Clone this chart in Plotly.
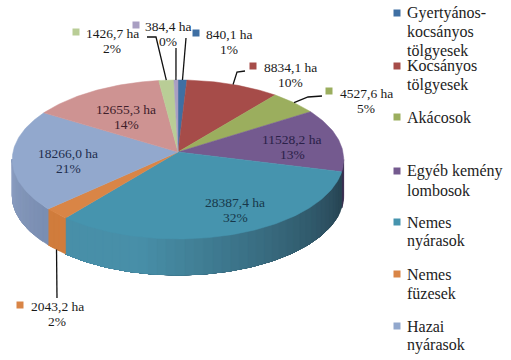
import math
import plotly.graph_objects as go

# --- data ---
categories = ["Gyertyános-<br>kocsányos<br>tölgyesek", "Kocsányos<br>tölgyesek", "Akácosok",
              "Egyéb kemény<br>lombosok", "Nemes<br>nyárasok", "Nemes<br>füzesek", "Hazai<br>nyárasok",
              "", "", ""]
values = [840.1, 8834.1, 4527.6, 11528.2, 28387.4, 2043.2, 18266.0, 12655.3, 1426.7, 384.4]

# --- style ---
colors = ["#3F6FA3", "#A64C49", "#9BAE5E", "#745A8F", "#4694AE", "#D98546", "#92A8CD", "#CE9392", "#B9CD96", "#A99FC2"]
wall_a = {4: (0x48, 0x8F, 0xA8), 5: (0xD0, 0x7C, 0x3C), 6: (0x8A, 0x9D, 0xC0), 3: (0x3A, 0x2E, 0x50)}
wall_b = {4: (0x25, 0x3E, 0x4C), 5: (0xD0, 0x7C, 0x3C), 6: (0x7A, 0x8E, 0xB2), 3: (0x3A, 0x2E, 0x50)}
text_colors = ["#1a1a1a", "#1a1a1a", "#1a1a1a", "#2A2148", "#17384A", "#1a1a1a", "#1F2E4E", "#40202A", "#1a1a1a", "#1a1a1a"]
CX, CY, RX, RY, P, DEPTH = 178, 152, 165, 78.8, 0.094, 36
label_pos = [(229, 42), (290, 75), (366, 101), (292, 147), (235, 210), (57, 314), (68, 161), (126, 117), (112, 41), (168, 34)]
LABEL_LINE = 15
key_pos = [(196, 33), (253, 66), (329, 91), None, None, (20, 305), None, None, (76, 32), (136, 25)]
elbows = [[(186, 38)], [(237, 72), (245, 71)], [(308, 97), (322, 96)], None, None, [(57, 298)], None, None,
          [(156, 37), (147, 37)], [(176, 48)]]
legend_top = [13, 66, 117, 171, 222, 274, 326]
LEGEND_LINE = 19
LEGEND_X, LEGEND_KEY_X = 405, 397

def project(theta):
    s, c = math.sin(theta), math.cos(theta)
    w = 1 + P * c
    return CX + RX * s / w, CY - RY * c / w

total = sum(values)
fig = go.Figure()
edges = [0.0]
for v in values:
    edges.append(edges[-1] + v / total * 2 * math.pi)

def arc(a, b, step=math.radians(1)):
    n = max(2, int((b - a) / step) + 2)
    return [a + (b - a) * i / (n - 1) for i in range(n)]

def poly(xs, ys, color):
    fig.add_trace(go.Scatter(x=xs, y=ys, mode="lines", fill="toself", fillcolor=color,
                             line=dict(color=color, width=0.5), hoverinfo="skip", showlegend=False))

# side wall, only for the part facing the viewer
front_start, front_end = math.acos(-P), 2 * math.pi - math.acos(-P)
for i in range(len(values)):
    a, b = max(edges[i], front_start), min(edges[i + 1], front_end)
    if b <= a:
        continue
    strips = arc(a, b, math.radians(3))
    for k in range(len(strips) - 1):
        t1, t2 = strips[k], strips[k + 1]
        f = ((t1 + t2) / 2 - front_start) / (front_end - front_start)
        w = min(1, max(0, (f - 0.02) / 0.55)) if i == 4 else k / max(1, len(strips) - 2)
        ca, cb = wall_a[i], wall_b[i]
        mix = [int(cb[j] + (ca[j] - cb[j]) * w) for j in range(3)]
        # each strip reaches to the end of its slice, later strips paint over it (no seams)
        pts = [project(t) for t in arc(t1, b)]
        xs = [p[0] for p in pts] + [p[0] for p in reversed(pts)] + [pts[0][0]]
        ys = [p[1] for p in pts] + [p[1] + DEPTH for p in reversed(pts)] + [pts[0][1]]
        poly(xs, ys, "#%02X%02X%02X" % tuple(mix))

# top face
for i in range(len(values)):
    pts = [project(t) for t in arc(edges[i], edges[i + 1])]
    poly([CX] + [p[0] for p in pts] + [CX], [CY] + [p[1] for p in pts] + [CY], colors[i])

# leader lines, from the middle of each slice's rim
for i, el in enumerate(elbows):
    if not el:
        continue
    mid = (edges[i] + edges[i + 1]) / 2
    sx, sy = project(mid)
    if math.cos(mid) < 0:
        sy += DEPTH
    fig.add_trace(go.Scatter(x=[sx] + [p[0] for p in el], y=[sy] + [p[1] for p in el], mode="lines",
                             line=dict(color="#111111", width=1.3), hoverinfo="skip", showlegend=False))

# key squares beside outside labels
for i, k in enumerate(key_pos):
    if k:
        fig.add_trace(go.Scatter(x=[k[0]], y=[k[1]], mode="markers",
                                 marker=dict(symbol="square", size=7, color=colors[i]),
                                 hoverinfo="skip", showlegend=False))

annotations = []
for i, v in enumerate(values):
    lines = [f"{v:.1f}".replace(".", ",") + " ha", f"{round(v / total * 100)}%"]
    for n, line in enumerate(lines):
        annotations.append(dict(x=label_pos[i][0], y=label_pos[i][1] + (n - 0.5) * LABEL_LINE, text=line,
                                showarrow=False, xref="x", yref="y", align="center",
                                font=dict(family="Liberation Serif", size=13.5, color=text_colors[i])))

# legend (only the entries that fit in the picture)
for i, top in enumerate(legend_top):
    fig.add_trace(go.Scatter(x=[LEGEND_KEY_X], y=[top], mode="markers",
                             marker=dict(symbol="square", size=7, color=colors[i]),
                             hoverinfo="skip", showlegend=False))
    for n, line in enumerate(categories[i].split("<br>")):
        annotations.append(dict(x=LEGEND_X, y=top + n * LEGEND_LINE, text=line, showarrow=False,
                                xref="x", yref="y", xanchor="left", align="left",
                                font=dict(family="Liberation Serif", size=16, color="#222222")))

fig.update_layout(
    width=511, height=360, margin=dict(l=0, r=0, t=0, b=0),
    paper_bgcolor="white", plot_bgcolor="white", annotations=annotations, showlegend=False,
    xaxis=dict(range=[0, 511], visible=False, fixedrange=True),
    yaxis=dict(range=[360, 0], visible=False, fixedrange=True),
)
fig.write_html("out.html", config={"displayModeBar": False},
               post_script="document.body.style.margin='0';document.documentElement.style.overflow='hidden';")
